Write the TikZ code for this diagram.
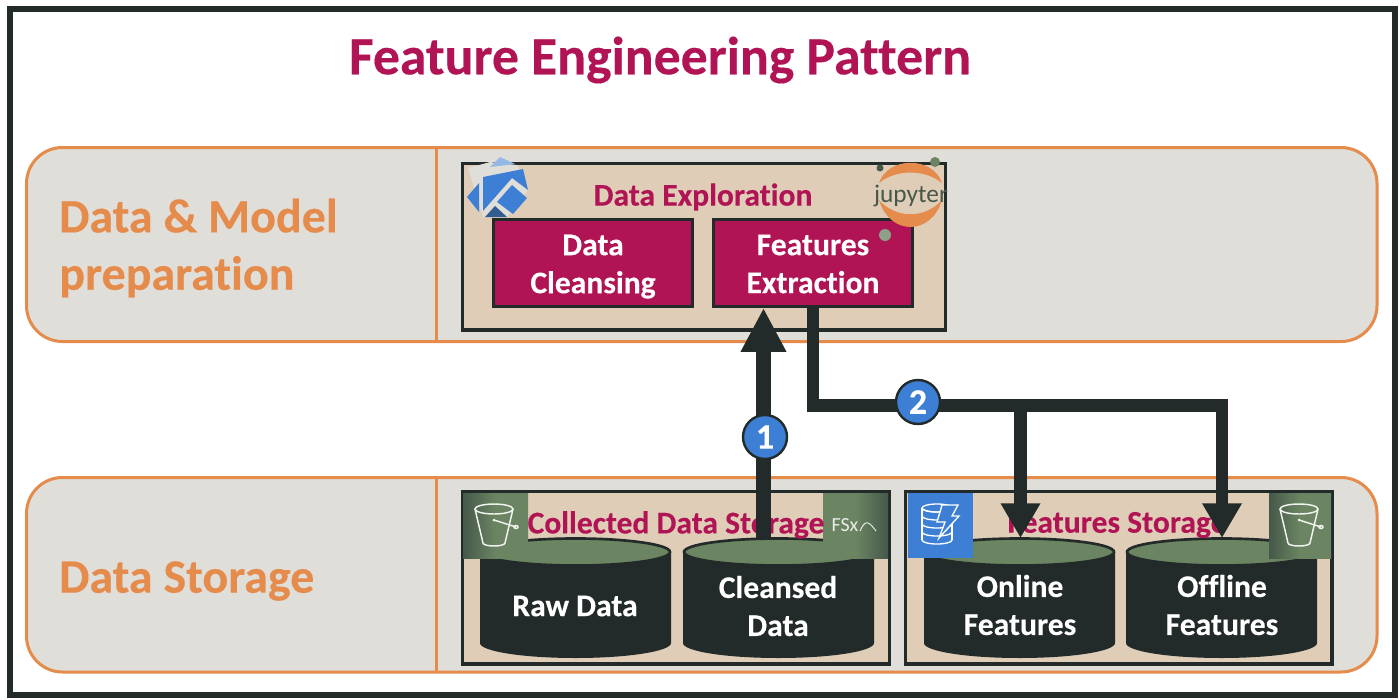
\documentclass[tikz,border=0pt]{standalone}
\usepackage{fontspec}
\setmainfont[Ligatures=NoCommon,BoldFeatures={FakeBold=0.25}]{Carlito}
\usetikzlibrary{arrows.meta,calc}
\definecolor{inkdark}{HTML}{222B2A}
\definecolor{crimson}{HTML}{B01454}
\definecolor{tan}{HTML}{DFCDB8}
\definecolor{sage}{HTML}{6B8562}
\definecolor{sagedark}{HTML}{46584A}
\definecolor{bandgrey}{HTML}{E0DED9}
\definecolor{orangeline}{HTML}{E58B4B}
\definecolor{azure}{HTML}{3D7FD4}
\tikzset{
  band/.style={draw=orangeline,line width=2.25pt,fill=bandgrey,rounded corners=27pt},
  divider/.style={draw=orangeline,line width=2.25pt},
  bandtext/.style={text=orangeline,font=\fontsize{36}{43}\selectfont\bfseries,align=left,anchor=west,inner sep=0pt},
  panel/.style={draw=inkdark,line width=2.4pt,fill=tan},
  paneltitle/.style={text=crimson,font=\fontsize{23.7}{26}\selectfont\bfseries,inner sep=0pt},
  procbox/.style={draw=inkdark,line width=2.4pt,fill=crimson,minimum width=149pt,minimum height=65pt,inner sep=0pt},
  whitetext/.style={text=white,font=\fontsize{23.7}{28.5}\selectfont\bfseries,align=center,inner sep=0pt},
  flowone/.style={draw=inkdark,line width=11pt,-{Triangle[length=33pt,width=32pt]}},
  flow/.style={draw=inkdark,line width=9.4pt,line join=miter},
  flowarrow/.style={flow,-{Triangle[length=26pt,width=28pt]}},
  numdot/.style={circle,draw=inkdark,line width=1.8pt,fill=azure,text=white,minimum size=33pt,inner sep=0pt,font=\fontsize{27}{27}\selectfont\bfseries},
  iconline/.style={draw=white!90!sage,line width=1.1pt},
  dbline/.style={draw=white,line width=1pt},
}
% cylinder: left x, right x
\newcommand{\drawcyl}[2]{%
  \fill[inkdark] (#1,552) arc[start angle=180,end angle=360,x radius={(#2-#1)/2},y radius=14]
     -- (#2,643) arc[start angle=0,end angle=180,x radius={(#2-#1)/2},y radius=15] -- cycle;
  \draw[inkdark,line width=2pt,fill=sage] ({(#1+#2)/2},552) ellipse[x radius={(#2-#1)/2-1},y radius=13.5];
}
% bucket icon at given origin
\newcommand{\bucketicon}[2]{%
  \begin{scope}[shift={(#1,#2)}]
    \draw[iconline] (0,0) ellipse[x radius=19,y radius=5];
    \draw[iconline] (-19,0) -- (-11,34) arc[start angle=180,end angle=0,x radius=11,y radius=3] -- (19,0);
    \draw[iconline] (0,11) -- (22,18);
    \draw[iconline] (22,18) ellipse[x radius=2,y radius=1.5];
    \fill[white!90!sage] (0,11) circle[radius=1.5];
  \end{scope}}
\begin{document}
\begin{tikzpicture}[x=0.75pt,y=-0.75pt]
\useasboundingbox (0,0) rectangle (1400,700);
\fill[white] (0,0) rectangle (1400,700);
\draw[inkdark,line width=4.5pt] (10,9) rectangle (1395,695);

\node[text=crimson,font=\fontsize{40.3}{44}\selectfont\bfseries,inner sep=0pt] (title) at (660,60) {Feature Engineering Pattern};

% bands
\draw[band] (26.5,147.5) rectangle (1377,341.5);
\draw[divider] (436,147.5) -- (436,341.5);
\draw[band] (26.5,477.5) rectangle (1377,672);
\draw[divider] (436,477.5) -- (436,672);
\node[bandtext] (bandone) at (59,248) {Data \& Model\\preparation};
\node[bandtext] (bandtwo) at (59,581) {Data Storage};

% Data Exploration panel
\draw[panel] (462.5,163.5) rectangle (945.5,330);
\node[paneltitle] (explore) at (703,197) {Data Exploration};
\node[procbox] (cleansing) at (593,263) {};
\node[procbox] (features) at (813,263) {};
\node[whitetext] (cleansingtext) at (cleansing) [yshift=-2.75pt] {Data\\Cleansing};
\node[whitetext] (featurestext) at (features) [yshift=-.75pt] {Features\\Extraction};

% kubeflow icon
\fill[bandgrey] (468,168) -- (490,162) -- (517,165) -- (528,190) -- (507,217) -- (483,217) -- cycle;
\fill[azure] (483,177) -- (523,169) -- (528,190) -- (512,178) -- (483,211) -- cycle;
\fill[azure] (512,185) -- (527,198) -- (513,214) -- (497,202) -- cycle;
\fill[azure] (479,183) -- (479,212) -- (467,197) -- cycle;
\fill[azure!60!inkdark] (495,206) -- (507,217) -- (485,217) -- cycle;
\fill[azure!55!white] (490,167) -- (500,157) -- (515,164) -- cycle;

% jupyter icon
\fill[orangeline] (879,183) .. controls (888,156) and (933,156) .. (942,183) .. controls (925,169) and (896,169) .. (879,183) -- cycle;
\fill[orangeline] (879,200) .. controls (890,236) and (931,236) .. (942,200) .. controls (925,219) and (896,219) .. (879,200) -- cycle;
\node[text=sagedark,font=\fontsize{19}{19}\selectfont,inner sep=0pt] (jup) at (911,196) {jupyter};
\fill[sage] (935,162) circle[radius=5];
\fill[sagedark] (880,168) circle[radius=3.5];
\fill[sage!70!bandgrey] (885,235) circle[radius=6];

% Collected Data Storage
\draw[panel] (462.5,491.5) rectangle (889.5,664);
\drawcyl{480}{671}
\drawcyl{683}{874}
\fill[left color=sagedark,right color=sage,middle color=sage] (463,493) rectangle (528,558);
\fill[right color=sagedark,left color=sage,middle color=sage] (823,493) rectangle (888,558);
\bucketicon{494}{509}
\node[text=white!85!sage,font=\fontsize{15}{15}\selectfont,inner sep=0pt] (fsx) at (845,525) {FSx};
\draw[white!85!sage,line width=.7pt] (860,531) .. controls (865,520) and (868,520) .. (876,531);
\node[paneltitle] (collected) at (676,525) {Collected Data Storage};
\node[whitetext] (raw) at (575,606) {Raw Data};
\node[whitetext] (cleansed) at (778,606) {Cleansed\\Data};

% Features Storage
\draw[panel] (905.5,491.5) rectangle (1332,664);
\drawcyl{924}{1115}
\drawcyl{1126}{1317}
\fill[azure] (908,493) rectangle (973,558);
\fill[left color=sagedark,right color=sage,middle color=sage] (1269,493) rectangle (1331,558);
\bucketicon{1299}{509}
\begin{scope}[shift={(922,508)}]
  \foreach \yy in {0,8,16,24,32}{\draw[dbline] (0,\yy) arc[start angle=180,end angle=0,x radius=15,y radius=4];}
  \draw[dbline] (15,0) ellipse[x radius=15,y radius=4];
  \draw[dbline] (0,0) -- (0,32);
  \draw[dbline] (30,0) -- (30,32);
  \draw[dbline,fill=azure] (20,-3) -- (36,-3) -- (30,8) -- (37,8) -- (17,30) -- (23,14) -- (15,14) -- cycle;
\end{scope}
\node[paneltitle] (featstore) at (1117,525) {Features Storage};
\node[whitetext] (online) at (1020,605) {Online\\Features};
\node[whitetext] (offline) at (1222,605) {Offline\\Features};

% connectors
\coordinate (cleansedtop) at (763.5,540);
\coordinate (featdown) at (813,308);
\coordinate (onlinetop) at (1020.5,538);
\coordinate (offlinetop) at (1222,538);
\coordinate (junction) at (813,405.5);
\draw[flowone] (cleansedtop) -- (cleansedtop |- features.south);
\draw[flow] (featdown) -- (junction) -- ([xshift=4.7pt]junction -| offlinetop);
\draw[flowarrow] ($(offlinetop |- junction)+(0,-6.3)$) -- (offlinetop);
\draw[flowarrow] (onlinetop |- junction) -- (onlinetop);
\node[numdot] (stepone) at (765,437) {1};
\node[numdot] (steptwo) at (918,402) {2};
\end{tikzpicture}
\end{document}
